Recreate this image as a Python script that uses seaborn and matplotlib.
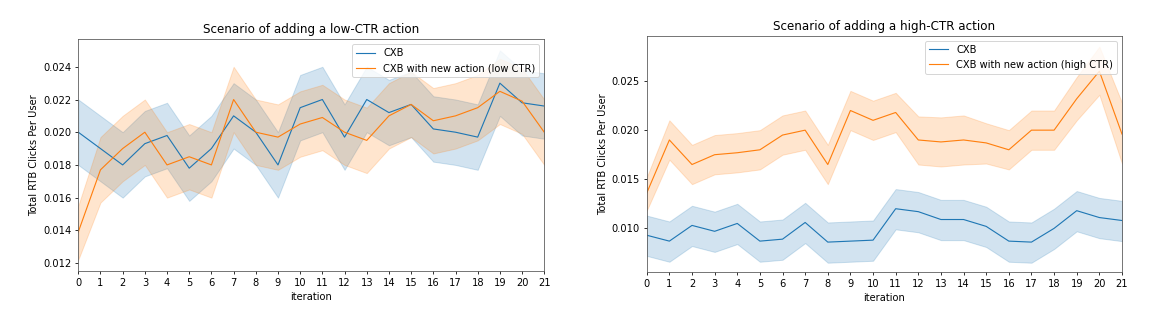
import numpy as np
import pandas as pd
import matplotlib
matplotlib.use("Agg")
import matplotlib.pyplot as plt
import seaborn as sns

iterations = list(range(22))

# Low-CTR scenario: mean clicks per user and band bounds
low_cxb_mean = [0.0200, 0.0190, 0.0180, 0.0193, 0.0198, 0.0178, 0.0190, 0.0210,
                0.0200, 0.0180, 0.0215, 0.0220, 0.0197, 0.0220, 0.0212, 0.0217,
                0.0202, 0.0200, 0.0197, 0.0230, 0.0218, 0.0216]
low_cxb_lo = [0.0180, 0.0170, 0.0160, 0.0173, 0.0178, 0.0158, 0.0170, 0.0190,
              0.0180, 0.0160, 0.0195, 0.0200, 0.0177, 0.0200, 0.0192, 0.0197,
              0.0182, 0.0180, 0.0177, 0.0210, 0.0198, 0.0196]
low_cxb_hi = [0.0220, 0.0210, 0.0200, 0.0213, 0.0218, 0.0198, 0.0210, 0.0230,
              0.0220, 0.0200, 0.0235, 0.0240, 0.0217, 0.0240, 0.0232, 0.0237,
              0.0222, 0.0220, 0.0217, 0.0250, 0.0238, 0.0236]

low_new_mean = [0.0139, 0.0177, 0.0190, 0.0200, 0.0180, 0.0185, 0.0180, 0.0220,
                0.0200, 0.0197, 0.0205, 0.0209, 0.0200, 0.0195, 0.0210, 0.0217,
                0.0207, 0.0210, 0.0215, 0.0225, 0.0219, 0.0200]
low_new_lo = [0.0122, 0.0157, 0.0170, 0.0180, 0.0160, 0.0165, 0.0160, 0.0200,
              0.0180, 0.0177, 0.0185, 0.0189, 0.0180, 0.0175, 0.0190, 0.0197,
              0.0187, 0.0190, 0.0195, 0.0205, 0.0199, 0.0180]
low_new_hi = [0.0155, 0.0197, 0.0210, 0.0220, 0.0200, 0.0205, 0.0200, 0.0240,
              0.0220, 0.0217, 0.0225, 0.0229, 0.0220, 0.0215, 0.0230, 0.0237,
              0.0227, 0.0230, 0.0235, 0.0245, 0.0239, 0.0220]

# High-CTR scenario
high_cxb_mean = [0.0093, 0.0087, 0.0103, 0.0097, 0.0105, 0.0087, 0.0089, 0.0106,
                 0.0086, 0.0087, 0.0088, 0.0120, 0.0117, 0.0109, 0.0109, 0.0102,
                 0.0087, 0.0086, 0.0100, 0.0118, 0.0111, 0.0108]
high_cxb_lo = [0.0072, 0.0066, 0.0082, 0.0076, 0.0084, 0.0066, 0.0068, 0.0085,
               0.0065, 0.0066, 0.0067, 0.0099, 0.0096, 0.0088, 0.0088, 0.0081,
               0.0066, 0.0065, 0.0079, 0.0097, 0.0090, 0.0087]
high_cxb_hi = [0.0113, 0.0107, 0.0123, 0.0117, 0.0125, 0.0107, 0.0109, 0.0126,
               0.0106, 0.0107, 0.0108, 0.0140, 0.0137, 0.0129, 0.0129, 0.0122,
               0.0107, 0.0106, 0.0120, 0.0138, 0.0131, 0.0128]

high_new_mean = [0.0136, 0.0190, 0.0165, 0.0175, 0.0177, 0.0180, 0.0195, 0.0200,
                 0.0165, 0.0220, 0.0210, 0.0218, 0.0190, 0.0188, 0.0190, 0.0187,
                 0.0180, 0.0200, 0.0200, 0.0232, 0.0260, 0.0196]
high_new_lo = [0.0118, 0.0170, 0.0145, 0.0155, 0.0157, 0.0160, 0.0175, 0.0180,
               0.0145, 0.0200, 0.0190, 0.0198, 0.0165, 0.0163, 0.0165, 0.0166,
               0.0160, 0.0180, 0.0180, 0.0210, 0.0236, 0.0166]
high_new_hi = [0.0152, 0.0210, 0.0185, 0.0195, 0.0197, 0.0200, 0.0215, 0.0220,
               0.0185, 0.0240, 0.0230, 0.0238, 0.0214, 0.0213, 0.0215, 0.0207,
               0.0200, 0.0220, 0.0220, 0.0254, 0.0285, 0.0228]

series_labels_low = ["CXB", "CXB with new action (low CTR)"]
series_labels_high = ["CXB", "CXB with new action (high CTR)"]
titles = ["Scenario of adding a low-CTR action", "Scenario of adding a high-CTR action"]
xlabel = "iteration"
ylabel = "Total RTB Clicks Per User"


def long_frame(labels, groups):
    rows = []
    for label, (lo, mid, hi) in zip(labels, groups):
        for it, a, b, c in zip(iterations, lo, mid, hi):
            for v in (a, b, c):
                rows.append({"iteration": it, "value": v, "series": label})
    return pd.DataFrame(rows)


df_low = long_frame(series_labels_low,
                    [(low_cxb_lo, low_cxb_mean, low_cxb_hi),
                     (low_new_lo, low_new_mean, low_new_hi)])
df_high = long_frame(series_labels_high,
                     [(high_cxb_lo, high_cxb_mean, high_cxb_hi),
                      (high_new_lo, high_new_mean, high_new_hi)])

DPI = 71
fig = plt.figure(figsize=(1158 / DPI, 325 / DPI), dpi=DPI)
ax1 = fig.add_axes([0.0676, 0.167, 0.4024, 0.712])
ax2 = fig.add_axes([0.5585, 0.162, 0.4104, 0.727])

palette = ["#1f77b4", "#ff7f0e"]
band = lambda v: (v.min(), v.max())

for ax, df, title, ylim in [(ax1, df_low, titles[0], (0.01153, 0.02568)),
                            (ax2, df_high, titles[1], (0.00552, 0.02958))]:
    sns.lineplot(data=df, x="iteration", y="value", hue="series",
                 estimator="median", errorbar=band, palette=palette,
                 linewidth=1.15, ax=ax)
    ax.set_title(title)
    ax.set_xlabel(xlabel)
    ax.set_ylabel(ylabel)
    ax.set_xlim(0, 21)
    ax.set_xticks(iterations)
    ax.set_ylim(*ylim)
    ax.legend(loc="upper right", title=None)
    for spine in ax.spines.values():
        spine.set_edgecolor("#555555")

fig.savefig("out.png", dpi=DPI)
